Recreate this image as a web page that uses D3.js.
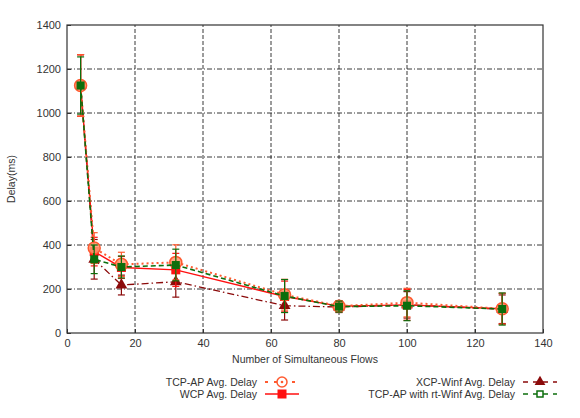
<!DOCTYPE html>
<html>
<head>
<meta charset="utf-8">
<script src="https://cdn.jsdelivr.net/npm/d3@7"></script>
<style>
  body { margin: 0; background: #fff; }
  text { font-family: "Liberation Sans", Arial, sans-serif; }
</style>
</head>
<body>
<svg id="chart"></svg>
<script>
// flows on the x axis
const flows = [4, 8, 16, 32, 64, 80, 100, 128];

// average delay (ms) and error half-widths per protocol
const tcpap = [1125, 386, 312, 321, 174, 122, 138, 110];
const tcpapErr = [140, 70, 55, 80, 70, 25, 65, 70];
const wcp = [1125, 370, 298, 287, 166, 122, 128, 110];
const wcpErr = [140, 65, 50, 75, 70, 25, 70, 70];
const xcp = [1125, 335, 218, 233, 124, 118, 128, 108];
const xcpErr = [140, 90, 45, 70, 65, 25, 60, 65];
const rtwinf = [1125, 335, 300, 309, 168, 120, 124, 109];
const rtwinfErr = [130, 65, 50, 72, 75, 25, 68, 73];

const xTicks = [0, 20, 40, 60, 80, 100, 120, 140];
const yTicks = [0, 200, 400, 600, 800, 1000, 1200, 1400];

const w = 580, h = 418;
const m = {left: 67, right: 37, top: 25, bottom: 85};

const svg = d3.select('#chart')
    .attr('width', w)
    .attr('height', h);

const x = d3.scaleLinear().domain([0, 140]).range([m.left, w - m.right]);
const y = d3.scaleLinear().domain([0, 1400]).range([h - m.bottom, m.top]);

// grid
svg.append('g')
    .selectAll('line')
    .data(xTicks.slice(1, -1))
    .join('line')
    .attr('x1', d => x(d)).attr('x2', d => x(d))
    .attr('y1', y(0)).attr('y2', y(1400))
    .attr('stroke', '#222').attr('stroke-width', 0.9)
    .attr('stroke-dasharray', '4,2');
svg.append('g')
    .selectAll('line')
    .data(yTicks.slice(1, -1))
    .join('line')
    .attr('x1', x(0)).attr('x2', x(140))
    .attr('y1', d => y(d)).attr('y2', d => y(d))
    .attr('stroke', '#222').attr('stroke-width', 0.9)
    .attr('stroke-dasharray', '5,2,1,2');

// axes
const fmt = d3.format('d');
const xAxis = d3.axisBottom(x).tickValues(xTicks).tickFormat(fmt).tickSize(-4).tickPadding(6);
const yAxis = d3.axisLeft(y).tickValues(yTicks).tickFormat(fmt).tickSize(-4).tickPadding(6);

svg.append('g')
    .attr('transform', `translate(0, ${y(0)})`)
    .call(xAxis)
    .call(g => g.select('.domain').remove());
svg.append('g')
    .attr('transform', `translate(${x(0)}, 0)`)
    .call(yAxis)
    .call(g => g.select('.domain').remove());
svg.selectAll('.tick text').attr('font-size', 11).attr('fill', '#333');
svg.selectAll('.tick line').attr('stroke', '#333');

svg.append('rect')
    .attr('x', x(0)).attr('y', y(1400))
    .attr('width', x(140) - x(0)).attr('height', y(0) - y(1400))
    .attr('fill', 'none').attr('stroke', '#333').attr('stroke-width', 1.2);

svg.append('text')
    .attr('x', (x(0) + x(140)) / 2).attr('y', 363)
    .attr('text-anchor', 'middle').attr('font-size', 10.5).attr('fill', '#333')
    .text('Number of Simultaneous Flows');
svg.append('text')
    .attr('transform', `translate(15, ${(y(0) + y(1400)) / 2}) rotate(-90)`)
    .attr('text-anchor', 'middle').attr('font-size', 10.5).attr('fill', '#333')
    .text('Delay(ms)');

const series = [
  {name: 'XCP-Winf Avg. Delay', vals: xcp, err: xcpErr, color: '#8b0a0a', dash: '7,3,1.5,3', width: 1.3, marker: 'tri'},
  {name: 'WCP Avg. Delay', vals: wcp, err: wcpErr, color: '#ff1010', dash: null, width: 1.4, marker: 'sq'},
  {name: 'TCP-AP Avg. Delay', vals: tcpap, err: tcpapErr, color: '#ff5a30', dash: '2,3', width: 2, marker: 'circ'},
  {name: 'TCP-AP with rt-Winf Avg. Delay', vals: rtwinf, err: rtwinfErr, color: '#0c6e0c', dash: '5,3', width: 1.6, marker: 'gsq'}
];

const line = d3.line().x(d => x(d[0])).y(d => y(d[1]));

function drawMarker(g, type, color, cx, cy, legend) {
  if (type === 'circ') {
    if (legend) {
      g.append('circle').attr('cx', cx).attr('cy', cy).attr('r', 5)
        .attr('fill', '#fff').attr('stroke', color).attr('stroke-width', 1.5);
      g.append('circle').attr('cx', cx).attr('cy', cy).attr('r', 1.3).attr('fill', color);
    } else {
      g.append('circle').attr('cx', cx).attr('cy', cy).attr('r', 6)
        .attr('fill', '#ff9a70').attr('fill-opacity', 0.85)
        .attr('stroke', color).attr('stroke-width', 1.5);
    }
  } else if (type === 'sq') {
    g.append('rect').attr('x', cx - 4.5).attr('y', cy - 4.5)
      .attr('width', 9).attr('height', 9).attr('fill', color);
  } else if (type === 'gsq') {
    if (legend) {
      g.append('rect').attr('x', cx - 3).attr('y', cy - 3)
        .attr('width', 6).attr('height', 6).attr('fill', '#fff')
        .attr('stroke', color).attr('stroke-width', 1.5);
    } else {
      g.append('rect').attr('x', cx - 4).attr('y', cy - 4)
        .attr('width', 8).attr('height', 8).attr('fill', color);
    }
  } else if (type === 'tri') {
    g.append('path')
      .attr('d', d3.symbol(d3.symbolTriangle, legend ? 50 : 60)())
      .attr('transform', `translate(${cx}, ${cy})`)
      .attr('fill', color);
  }
}

series.forEach(s => {
  const g = svg.append('g');
  const pts = flows.map((f, i) => [f, s.vals[i], s.err[i]]);
  g.append('path')
    .attr('d', line(pts))
    .attr('fill', 'none')
    .attr('stroke', s.color)
    .attr('stroke-width', s.width)
    .attr('stroke-dasharray', s.dash);
  // error bars
  pts.forEach(p => {
    const px = x(p[0]);
    const top = y(p[1] + p[2]), bot = y(p[1] - p[2]);
    g.append('line').attr('x1', px).attr('x2', px).attr('y1', top).attr('y2', bot)
      .attr('stroke', s.color).attr('stroke-width', 1.2);
    [top, bot].forEach(yy => {
      g.append('line').attr('x1', px - 3.5).attr('x2', px + 3.5)
        .attr('y1', yy).attr('y2', yy)
        .attr('stroke', s.color).attr('stroke-width', 1.2);
    });
  });
  pts.forEach(p => drawMarker(g, s.marker, s.color, x(p[0]), y(p[1]), false));
});

// legend
const legendItems = [
  {s: series[2], tx: 257, ty: 382},
  {s: series[1], tx: 257, ty: 394},
  {s: series[0], tx: 515, ty: 382},
  {s: series[3], tx: 515, ty: 394}
];
legendItems.forEach(it => {
  const g = svg.append('g');
  g.append('text')
    .attr('x', it.tx).attr('y', it.ty + 4)
    .attr('text-anchor', 'end').attr('font-size', 10.5).attr('fill', '#333')
    .text(it.s.name);
  g.append('line')
    .attr('x1', it.tx + 8).attr('x2', it.tx + 42)
    .attr('y1', it.ty).attr('y2', it.ty)
    .attr('stroke', it.s.color).attr('stroke-width', it.s.width)
    .attr('stroke-dasharray', it.s.dash ? (it.s.marker === 'circ' ? '3,6' : '5,5') : null);
  drawMarker(g, it.s.marker, it.s.color, it.tx + 25, it.ty, true);
});
</script>
</body>
</html>
